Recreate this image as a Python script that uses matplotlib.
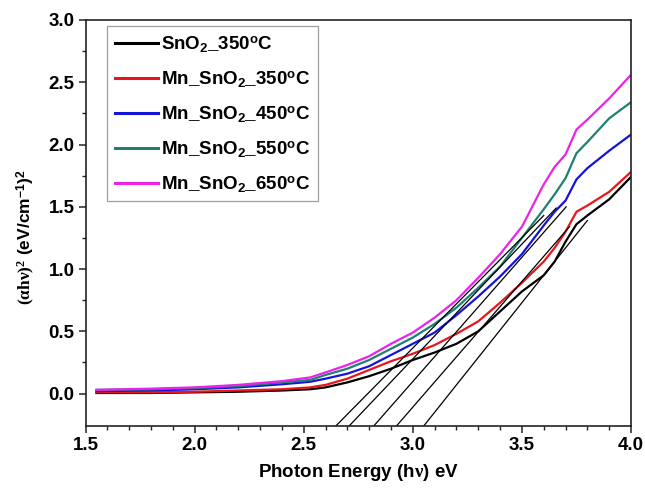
import numpy as np
import matplotlib
matplotlib.use("Agg")
import matplotlib.pyplot as plt

# Tauc plot data: (alpha*h*nu)^2 versus photon energy for the annealed films
energy = [1.55, 1.8, 2.0, 2.2, 2.4, 2.53, 2.6, 2.7, 2.8, 2.9, 3.0, 3.1, 3.2,
          3.3, 3.4, 3.5, 3.6, 3.65, 3.7, 3.75, 3.8, 3.9, 4.0]

sno2_350 = [0.005, 0.005, 0.01, 0.015, 0.025, 0.035, 0.05, 0.09, 0.14, 0.20, 0.27, 0.33, 0.40,
            0.50, 0.66, 0.82, 0.95, 1.06, 1.22, 1.36, 1.43, 1.56, 1.74]
mn_350 = [0.01, 0.01, 0.015, 0.025, 0.035, 0.05, 0.07, 0.12, 0.19, 0.26, 0.32, 0.39, 0.48,
          0.58, 0.73, 0.89, 1.06, 1.17, 1.30, 1.46, 1.51, 1.62, 1.78]
mn_450 = [0.02, 0.025, 0.035, 0.05, 0.075, 0.095, 0.12, 0.16, 0.22, 0.31, 0.40, 0.49, 0.63,
          0.78, 0.94, 1.12, 1.35, 1.46, 1.55, 1.72, 1.81, 1.95, 2.08]
mn_550 = [0.03, 0.035, 0.045, 0.06, 0.09, 0.11, 0.15, 0.20, 0.27, 0.36, 0.45, 0.56, 0.69,
          0.85, 1.02, 1.25, 1.48, 1.60, 1.73, 1.93, 2.02, 2.21, 2.34]
mn_650 = [0.03, 0.04, 0.05, 0.07, 0.10, 0.13, 0.17, 0.23, 0.30, 0.40, 0.49, 0.61, 0.75,
          0.93, 1.12, 1.34, 1.68, 1.82, 1.92, 2.12, 2.20, 2.37, 2.56]

labels = ["SnO$_{\\mathbf{2}}$_350$^{\\mathbf{o}}$C", "Mn_SnO$_{\\mathbf{2}}$_350$^{\\mathbf{o}}$C",
          "Mn_SnO$_{\\mathbf{2}}$_450$^{\\mathbf{o}}$C", "Mn_SnO$_{\\mathbf{2}}$_550$^{\\mathbf{o}}$C",
          "Mn_SnO$_{\\mathbf{2}}$_650$^{\\mathbf{o}}$C"]
colors = ["#000000", "#e8161b", "#1414d8", "#1f8070", "#ec22ec"]

# linear fits extrapolated down to the energy axis (start / end points)
fit_x0 = [2.647, 2.708, 2.821, 2.925, 3.05]
fit_y0 = [-0.26, -0.26, -0.26, -0.26, -0.26]
fit_x1 = [3.60, 3.657, 3.703, 3.718, 3.80]
fit_y1 = [1.43, 1.49, 1.50, 1.34, 1.39]

plt.rcParams["font.family"] = ["Liberation Sans", "DejaVu Sans"]
plt.rcParams["font.weight"] = "bold"
plt.rcParams["axes.labelweight"] = "bold"
plt.rcParams["mathtext.fontset"] = "custom"
plt.rcParams["mathtext.rm"] = "Liberation Serif"
plt.rcParams["mathtext.it"] = "Liberation Serif:italic"
plt.rcParams["mathtext.bf"] = "Liberation Sans:bold"

fig = plt.figure(figsize=(6.45, 4.91), dpi=100)
ax = fig.add_axes([0.1326, 0.1324, 0.8457, 0.8269])

series = [sno2_350, mn_350, mn_450, mn_550, mn_650]
for ys, c, lab in zip(series, colors, labels):
    ax.plot(energy, ys, color=c, lw=1.6, label=lab)

for x0, y0, x1, y1 in zip(fit_x0, fit_y0, fit_x1, fit_y1):
    ax.plot([x0, x1], [y0, y1], color="black", lw=0.9)

ax.set_xlim(1.5, 4.0)
ax.set_ylim(-0.26, 3.0)
ax.set_xticks(np.arange(1.5, 4.01, 0.5))
ax.set_yticks(np.arange(0.0, 3.01, 0.5))
ax.set_xticks(np.arange(1.5, 4.01, 0.1), minor=True)
ax.set_yticks(np.arange(0.0, 3.01, 0.25), minor=True)
ax.xaxis.set_major_formatter(matplotlib.ticker.FormatStrFormatter("%.1f"))
ax.yaxis.set_major_formatter(matplotlib.ticker.FormatStrFormatter("%.1f"))
ax.tick_params(which="major", direction="out", length=5, width=1.1,
               labelsize=13.5, pad=3, color="#222222")
ax.tick_params(which="minor", direction="out", length=3, width=1.0, color="#222222")
for sp in ax.spines.values():
    sp.set_linewidth(1.2)
    sp.set_color("#222222")

ax.set_xlabel("Photon Energy (h$\\mathrm{\\nu}$) eV", fontsize=13.5)
ax.set_ylabel("$\\mathrm{(\\alpha h\\nu)}^{\\mathrm{2}}$ (eV/cm$^{\\mathbf{-1}}$)$^{\\mathbf{2}}$",
              fontsize=12.5)
ax.xaxis.set_label_coords(0.5, -0.088)
ax.yaxis.set_label_coords(-0.089, 0.465)

leg = ax.legend(loc="upper left", bbox_to_anchor=(0.04, 0.984), borderaxespad=0,
                fontsize=13.5, handlelength=2.3, handletextpad=0.15, labelspacing=0.8,
                frameon=True, fancybox=False, borderpad=0.4)
leg.get_frame().set_edgecolor("#888888")
leg.get_frame().set_linewidth(0.9)
for line in leg.get_lines():
    line.set_linewidth(2.2)

fig.savefig("out.png", dpi=100)
